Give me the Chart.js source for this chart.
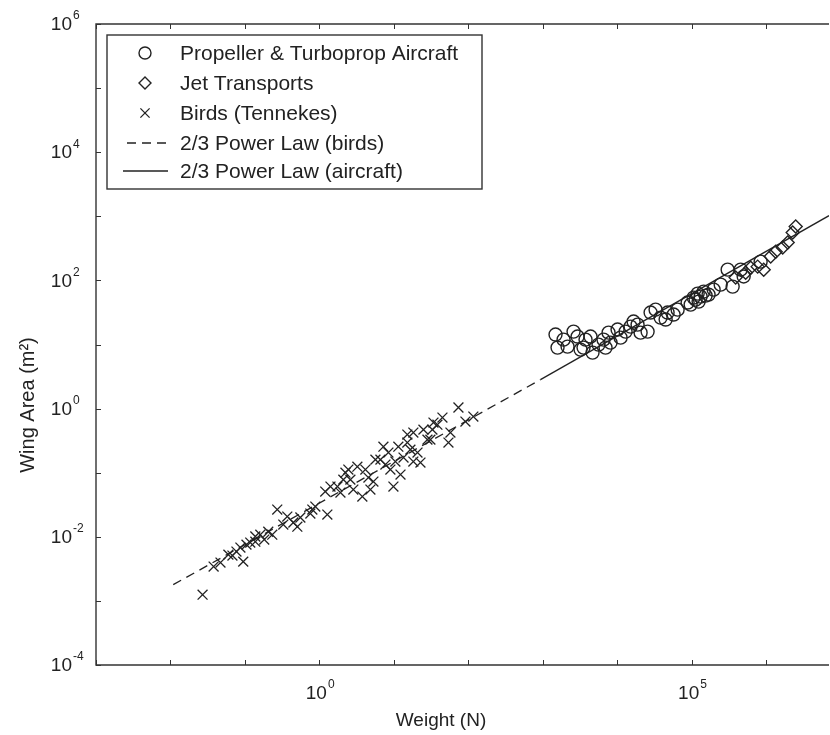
<!DOCTYPE html>
<html lang="en">
<head>
<meta charset="UTF-8">
<title>Wing Area vs Weight</title>
<script src="https://cdn.jsdelivr.net/npm/chart.js"></script>
<style>
  body { margin: 0; background: #fff; }
</style>
</head>
<body>
<canvas id="wingChart" width="830" height="735"></canvas>
<script>
// propeller & turboprop aircraft: weight (N) and wing area (m^2)
const propWeight = [1486, 1581, 2155, 2594, 2937, 3221, 3533, 4388, 4670, 5620,
  6563, 7663, 8147, 10120, 11110, 12970, 15140, 16600, 20630, 25630,
  28110, 32810, 38300, 47540, 57250, 64850, 88330, 113200, 132200, 145000,
  197600, 245500, 304800, 355700, 455800, 500000, 1905, 3760, 6980, 18790,
  97000, 169000, 124200, 44770, 845000, 106400, 154200, 120500];
const propArea = [14.3, 8.95, 9.27, 15.9, 13.3, 8.32, 8.95, 13.3, 7.48, 9.96,
  11.9, 15.3, 10.7, 17.1, 12.8, 15.9, 19.0, 22.8, 15.3, 15.9,
  31.5, 35.0, 26.3, 31.5, 29.3, 35.0, 45.1, 50.2, 55.9, 66.9,
  71.8, 85.9, 147, 80.0, 147, 115, 11.9, 11.9, 8.95, 20.4,
  41.9, 60.0, 46.7, 24.5, 196, 53.9, 57.9, 62.2];

// jet transports
const jetWeight = [621000, 771000, 929000, 1153000, 1346000, 1671000, 1950000, 2278000, 2500000, 532000, 390000];
const jetArea = [158, 164, 147, 235, 281, 325, 389, 557, 691, 132, 111];

// birds (Tennekes)
const birdWeight = [0.027, 0.038, 0.047, 0.060, 0.077, 0.095, 0.087, 0.105, 0.118, 0.138,
  0.161, 0.182, 0.206, 0.233, 0.272, 0.371, 0.448, 0.506, 0.805, 0.883,
  0.757, 1.28, 1.20, 1.41, 1.75, 2.10, 2.45, 2.61, 3.24, 2.86,
  3.78, 4.85, 5.32, 5.66, 6.61, 7.25, 8.46, 9.0, 9.88, 11.5,
  12.3, 13.5, 15.2, 15.2, 18.3, 20.8, 22.8, 25.0, 28.3, 31.0,
  33.0, 34.1, 45.0, 54.2, 57.6, 73.8, 91.6, 117, 4.15, 4.56,
  7.71, 10.5, 16.7, 38.5, 18.3, 2.24, 1.92, 0.556, 0.328, 0.138,
  0.068];
const birdArea = [0.00125, 0.00343, 0.00396, 0.00527, 0.00588, 0.0041, 0.00679, 0.00755, 0.00812, 0.0101,
  0.0108, 0.00904, 0.0120, 0.0108, 0.0266, 0.0207, 0.0167, 0.0144, 0.0266, 0.0296,
  0.0230, 0.0222, 0.0507, 0.0607, 0.0607, 0.078, 0.112, 0.078, 0.124, 0.0545,
  0.0424, 0.0545, 0.0727, 0.160, 0.160, 0.255, 0.206, 0.112, 0.0607, 0.255,
  0.0934, 0.172, 0.295, 0.393, 0.423, 0.206, 0.144, 0.470, 0.328, 0.328,
  0.470, 0.605, 0.724, 0.295, 0.423, 1.04, 0.627, 0.75, 0.112, 0.084,
  0.134, 0.149, 0.229, 0.562, 0.149, 0.100, 0.0490, 0.020, 0.0155, 0.0084,
  0.0051];

// 2/3 power law fits, end points
const birdLawWeight = [0.0109, 933];
const birdLawArea = [0.00179, 2.83];
const craftLawWeight = [933, 7e6];
const craftLawArea = [2.83, 1024];

// axis decades
const xTickExps = [-3, -2, -1, 0, 1, 2, 3, 4, 5, 6];
const xLabelExps = [0, 5];
const yTickExps = [-4, -3, -2, -1, 0, 1, 2, 3, 4, 5, 6];
const yLabelExps = [-4, -2, 0, 2, 4, 6];

const ink = '#222';
const fontFam = '"Liberation Sans", Arial, Helvetica, sans-serif';

function pairs(xs, ys) {
  return xs.map((x, i) => ({ x: x, y: ys[i] }));
}

// draws "10" with a raised exponent; anchor: 'right' (y axis, x = right end of "10") or 'center'
function drawPow(ctx, exp, x, y, anchor) {
  ctx.font = '19px ' + fontFam;
  const bw = ctx.measureText('10').width;
  const left = anchor === 'right' ? x - bw : x - bw / 2 - 3;
  ctx.textBaseline = 'middle';
  ctx.textAlign = 'left';
  ctx.fillText('10', left, y);
  ctx.font = '12px ' + fontFam;
  ctx.fillText(String(exp), left + bw + 1, y - 9);
}

const frameAndTicks = {
  id: 'frameAndTicks',
  afterDraw(chart) {
    const ctx = chart.ctx;
    const a = chart.chartArea;
    const xs = chart.scales.x;
    const ys = chart.scales.y;
    ctx.save();
    ctx.strokeStyle = '#333';
    ctx.fillStyle = '#222';
    ctx.lineWidth = 1.4;
    // frame (right edge is cut off in the original)
    ctx.beginPath();
    ctx.moveTo(a.right, a.top);
    ctx.lineTo(a.left, a.top);
    ctx.lineTo(a.left, a.bottom);
    ctx.lineTo(a.right, a.bottom);
    ctx.stroke();

    // inward tick marks
    ctx.lineWidth = 1;
    ctx.beginPath();
    xTickExps.forEach(e => {
      const px = Math.round(xs.getPixelForValue(Math.pow(10, e))) + 0.5;
      ctx.moveTo(px, a.bottom); ctx.lineTo(px, a.bottom - 5);
      ctx.moveTo(px, a.top); ctx.lineTo(px, a.top + 5);
    });
    yTickExps.forEach(e => {
      const py = Math.round(ys.getPixelForValue(Math.pow(10, e))) + 0.5;
      ctx.moveTo(a.left, py); ctx.lineTo(a.left + 5, py);
    });
    ctx.stroke();

    // tick labels
    xLabelExps.forEach(e => {
      drawPow(ctx, e, xs.getPixelForValue(Math.pow(10, e)), a.bottom + 29, 'center');
    });
    yLabelExps.forEach(e => {
      drawPow(ctx, e, 72, ys.getPixelForValue(Math.pow(10, e)) + 1, 'right');
    });

    // axis titles
    ctx.font = '19px ' + fontFam;
    ctx.textAlign = 'center';
    ctx.textBaseline = 'middle';
    ctx.fillText('Weight (N)', 441, a.bottom + 56);
    ctx.save();
    ctx.translate(28, 405);
    ctx.rotate(-Math.PI / 2);
    ctx.font = '20px ' + fontFam;
    ctx.fillText('Wing Area (m²)', 0, 0);
    ctx.restore();

    // legend box
    const box = { l: 107, t: 35, r: 482, b: 189 };
    ctx.lineWidth = 1.4;
    ctx.strokeRect(box.l, box.t, box.r - box.l, box.b - box.t);
    const rowY = [53, 83, 113, 143, 171];
    chart.data.datasets.forEach((ds, i) => {
      const y = rowY[i];
      ctx.strokeStyle = ink;
      if (ds.showLine) {
        ctx.lineWidth = ds.borderWidth;
        ctx.setLineDash(ds.borderDash || []);
        ctx.beginPath();
        ctx.moveTo(ds.borderDash ? 127 : 123, y);
        ctx.lineTo(168, y);
        ctx.stroke();
        ctx.setLineDash([]);
      } else {
        ctx.lineWidth = ds.borderWidth;
        ctx.fillStyle = 'rgba(0,0,0,0)';
        Chart.helpers.drawPoint(ctx, {
          pointStyle: ds.pointStyle,
          radius: ds.legendRadius,
          rotation: 0,
          borderWidth: ds.borderWidth
        }, 145, y);
      }
      ctx.fillStyle = '#222';
      ctx.font = '21px ' + fontFam;
      ctx.textAlign = 'left';
      ctx.textBaseline = 'middle';
      ctx.fillText(ds.label, 180, y + 1);
    });
    ctx.restore();
  }
};

const chart = new Chart(document.getElementById('wingChart'), {
  type: 'scatter',
  data: {
    datasets: [
      {
        label: 'Propeller & Turboprop Aircraft',
        data: pairs(propWeight, propArea),
        pointStyle: 'circle',
        pointRadius: 6.5,
        legendRadius: 6,
        backgroundColor: 'rgba(0,0,0,0)',
        borderColor: ink,
        borderWidth: 1.4
      },
      {
        label: 'Jet Transports',
        data: pairs(jetWeight, jetArea),
        pointStyle: 'rectRot',
        pointRadius: 6.5,
        legendRadius: 6,
        backgroundColor: 'rgba(0,0,0,0)',
        borderColor: ink,
        borderWidth: 1.4
      },
      {
        label: 'Birds (Tennekes)',
        data: pairs(birdWeight, birdArea),
        pointStyle: 'crossRot',
        pointRadius: 7,
        legendRadius: 6.5,
        borderColor: ink,
        borderWidth: 1.3
      },
      {
        label: '2/3 Power Law (birds)',
        data: pairs(birdLawWeight, birdLawArea),
        showLine: true,
        pointRadius: 0,
        borderColor: ink,
        borderWidth: 1.3,
        borderDash: [9, 6]
      },
      {
        label: '2/3 Power Law (aircraft)',
        data: pairs(craftLawWeight, craftLawArea),
        showLine: true,
        pointRadius: 0,
        borderColor: ink,
        borderWidth: 1.3
      }
    ]
  },
  options: {
    responsive: false,
    animation: false,
    devicePixelRatio: 1,
    layout: { autoPadding: false, padding: { top: 24, right: 1, left: 0, bottom: 0 } },
    plugins: {
      legend: { display: false },
      tooltip: { enabled: false }
    },
    scales: {
      x: {
        type: 'logarithmic',
        min: 1e-3,
        max: 7e6,
        grid: { display: false },
        border: { display: false },
        ticks: { display: false },
        afterFit(scale) { scale.height = 70; }
      },
      y: {
        type: 'logarithmic',
        min: 1e-4,
        max: 1e6,
        grid: { display: false },
        border: { display: false },
        ticks: { display: false },
        afterFit(scale) { scale.width = 96; }
      }
    }
  },
  plugins: [frameAndTicks]
});
</script>
</body>
</html>
